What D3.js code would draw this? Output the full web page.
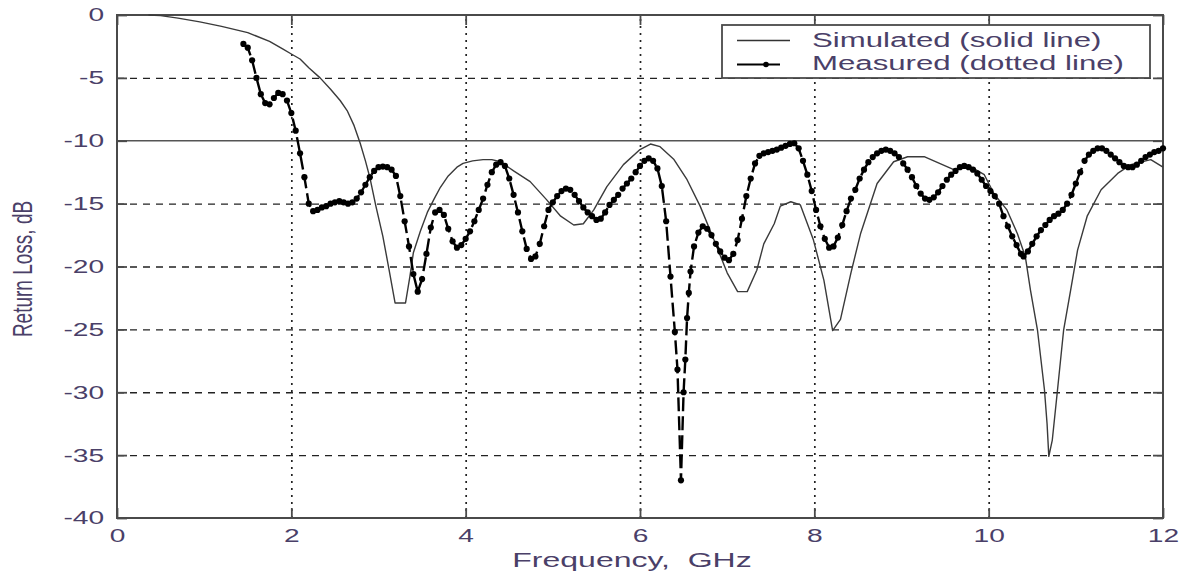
<!DOCTYPE html>
<html>
<head>
<meta charset="utf-8">
<script src="https://cdn.jsdelivr.net/npm/d3@7"></script>
<style>
  html, body { margin: 0; padding: 0; background: #fff; }
  svg { display: block; }
  text { font-family: "Liberation Sans", Arial, Helvetica, sans-serif; fill: #4a4068; }
</style>
</head>
<body>
<svg id="chart" width="1187" height="574"></svg>
<script>
// Return loss vs. frequency: simulated (thin solid) and measured (line + dot markers)
// Each pair is [frequency in GHz, return loss in dB]
const simulated = [
  [0.36, 0], [0.5, -0.05], [0.7, -0.25], [0.95, -0.55], [1.2, -0.9], [1.5, -1.4],
  [1.75, -2.1], [1.9, -2.7], [2.0, -3.1], [2.1, -3.5], [2.2, -4.2], [2.33, -5.0],
  [2.45, -5.9], [2.56, -6.8], [2.64, -7.6], [2.72, -8.8], [2.79, -10.2], [2.85, -11.6],
  [2.9, -12.9], [2.97, -15.2], [3.05, -17.6], [3.12, -20.2], [3.19, -22.9], [3.31, -22.9],
  [3.36, -20.8], [3.4, -18.9], [3.48, -17.2], [3.56, -15.7], [3.64, -14.6], [3.71, -13.7],
  [3.8, -12.8], [3.9, -12.1], [3.97, -11.8], [4.08, -11.6], [4.2, -11.5], [4.3, -11.5],
  [4.4, -11.67], [4.55, -12.4], [4.74, -13.25], [4.93, -14.7], [5.09, -16.0], [5.24, -16.7],
  [5.35, -16.6], [5.47, -15.5], [5.62, -13.65], [5.81, -11.9], [6.0, -10.7], [6.12, -10.26],
  [6.23, -10.47], [6.39, -11.5], [6.54, -13.1], [6.69, -15.2], [6.85, -17.9], [7.0, -20.5],
  [7.12, -22.0], [7.23, -22.0], [7.34, -20.3], [7.42, -18.2], [7.54, -16.6], [7.61, -15.2],
  [7.73, -14.85], [7.84, -15.1], [7.99, -17.9], [8.11, -21.1], [8.21, -25.1], [8.3, -24.2],
  [8.42, -20.5], [8.53, -17.4], [8.72, -13.4], [8.91, -11.67], [9.07, -11.27], [9.26, -11.27],
  [9.6, -12.3], [9.8, -12.1], [9.95, -12.7], [10.06, -14.2], [10.21, -15.5], [10.33, -17.4],
  [10.42, -19.2], [10.48, -21.9], [10.56, -25.05], [10.64, -29.8], [10.67, -32.5], [10.69, -35.1],
  [10.73, -33.8], [10.79, -29.8], [10.86, -25.05], [10.94, -21.9], [11.02, -18.7], [11.13, -16.0],
  [11.29, -13.9], [11.48, -12.6], [11.63, -11.9], [11.86, -11.5], [12.0, -12.1]
];

const measured = [
  [1.45, -2.3], [1.5, -2.6], [1.55, -3.6], [1.6, -5.0], [1.65, -6.3], [1.7, -7.0],
  [1.75, -7.1], [1.8, -6.6], [1.85, -6.2], [1.9, -6.3], [1.95, -6.8], [2.0, -7.8],
  [2.05, -9.2], [2.1, -11.0], [2.15, -12.9], [2.2, -15.0], [2.25, -15.6], [2.3, -15.5],
  [2.35, -15.3], [2.4, -15.2], [2.45, -15.0], [2.5, -14.9], [2.55, -14.8], [2.6, -14.9],
  [2.65, -15.0], [2.7, -14.9], [2.75, -14.6], [2.8, -14.1], [2.85, -13.5], [2.9, -12.9],
  [2.95, -12.4], [3.0, -12.1], [3.05, -12.05], [3.1, -12.1], [3.15, -12.3], [3.2, -12.8],
  [3.25, -14.4], [3.3, -16.4], [3.35, -18.4], [3.4, -20.6], [3.45, -22.0], [3.5, -21.0],
  [3.55, -19.0], [3.6, -16.9], [3.65, -15.7], [3.7, -15.5], [3.75, -15.9], [3.8, -17.0],
  [3.85, -18.0], [3.9, -18.5], [3.95, -18.3], [4.0, -17.8], [4.05, -17.2], [4.1, -16.4],
  [4.15, -15.5], [4.2, -14.6], [4.25, -13.5], [4.3, -12.5], [4.35, -11.9], [4.4, -11.7],
  [4.45, -12.0], [4.5, -13.0], [4.55, -14.3], [4.6, -15.7], [4.65, -17.2], [4.7, -18.6],
  [4.75, -19.4], [4.8, -19.2], [4.85, -18.2], [4.9, -16.8], [4.95, -15.5], [5.0, -14.9],
  [5.05, -14.4], [5.1, -14.0], [5.15, -13.8], [5.2, -13.9], [5.25, -14.3], [5.3, -14.8],
  [5.35, -15.3], [5.4, -15.7], [5.45, -16.0], [5.5, -16.3], [5.55, -16.2], [5.6, -15.7],
  [5.65, -15.1], [5.7, -14.7], [5.75, -14.3], [5.8, -13.8], [5.85, -13.4], [5.9, -13.0],
  [5.95, -12.5], [6.0, -12.0], [6.05, -11.6], [6.1, -11.4], [6.15, -11.6], [6.2, -12.2],
  [6.25, -13.6], [6.3, -16.4], [6.35, -20.8], [6.4, -25.2], [6.43, -28.2], [6.47, -37.0],
  [6.5, -30.0], [6.52, -27.4], [6.54, -24.1], [6.56, -22.1], [6.58, -20.4], [6.62, -18.4],
  [6.67, -17.3], [6.72, -16.8], [6.77, -17.0], [6.82, -17.5], [6.87, -18.2], [6.92, -18.8],
  [6.97, -19.3], [7.02, -19.5], [7.07, -19.0], [7.12, -17.9], [7.17, -16.2], [7.22, -14.4],
  [7.27, -13.0], [7.32, -11.8], [7.37, -11.2], [7.42, -11.0], [7.47, -10.9], [7.52, -10.8],
  [7.57, -10.7], [7.62, -10.55], [7.67, -10.4], [7.72, -10.25], [7.77, -10.2], [7.82, -10.6],
  [7.87, -11.6], [7.92, -12.7], [7.97, -14.0], [8.02, -15.5], [8.07, -16.8], [8.12, -17.8],
  [8.17, -18.5], [8.22, -18.4], [8.27, -17.7], [8.32, -16.7], [8.37, -15.6], [8.42, -14.6],
  [8.47, -13.9], [8.52, -13.0], [8.57, -12.3], [8.62, -11.7], [8.67, -11.3], [8.72, -11.0],
  [8.77, -10.8], [8.82, -10.7], [8.87, -10.8], [8.92, -11.0], [8.97, -11.3], [9.02, -11.8],
  [9.07, -12.3], [9.12, -12.9], [9.17, -13.6], [9.22, -14.2], [9.27, -14.6], [9.32, -14.7],
  [9.37, -14.5], [9.42, -14.1], [9.47, -13.6], [9.52, -13.1], [9.57, -12.7], [9.62, -12.4],
  [9.67, -12.1], [9.72, -12.0], [9.77, -12.1], [9.82, -12.3], [9.87, -12.6], [9.92, -13.1],
  [9.97, -13.6], [10.02, -14.0], [10.07, -14.4], [10.12, -15.0], [10.17, -16.0], [10.22, -16.8],
  [10.27, -17.6], [10.32, -18.3], [10.37, -19.0], [10.4, -19.2], [10.45, -18.8], [10.5, -18.2],
  [10.55, -17.6], [10.6, -17.1], [10.65, -16.7], [10.7, -16.3], [10.75, -16.0], [10.8, -15.8],
  [10.85, -15.5], [10.9, -15.0], [10.95, -14.3], [11.0, -13.4], [11.05, -12.5], [11.1, -11.6],
  [11.15, -11.1], [11.2, -10.8], [11.25, -10.6], [11.3, -10.6], [11.35, -10.8], [11.4, -11.1],
  [11.45, -11.4], [11.5, -11.7], [11.55, -12.0], [11.6, -12.1], [11.65, -12.1], [11.7, -11.9],
  [11.75, -11.6], [11.8, -11.3], [11.85, -11.1], [11.9, -10.9], [11.95, -10.8], [12.0, -10.6]
];

const xTicks = [0, 2, 4, 6, 8, 10, 12];
const yTicks = [0, -5, -10, -15, -20, -25, -30, -35, -40];
const xGrid = [2, 4, 6, 8, 10];
const yGrid = [-5, -15, -20, -25, -30, -35];
const refLevel = [-10];
const seriesNames = ["Simulated (solid line)", "Measured (dotted line)"];
const xTitle = "Frequency,  GHz";
const yTitle = "Return Loss, dB";

// ---- layout ----
const plot = { left: 117, top: 15, right: 1163, bottom: 518 };
const pw = plot.right - plot.left, ph = plot.bottom - plot.top;
const SX = 1.52;           // glyphs are drawn wide
const frameColor = "#4a4a4a";
const textColor = "#4a4068";

const svg = d3.select("#chart");
const x = d3.scaleLinear().domain([0, 12]).range([plot.left, plot.right]);
const y = d3.scaleLinear().domain([-40, 0]).range([plot.bottom, plot.top]);

// ---- grid ----
svg.append("g")
  .attr("transform", `translate(0,${plot.bottom})`)
  .call(d3.axisBottom(x).tickValues(xGrid).tickSize(-ph).tickFormat(""))
  .call(g => g.select(".domain").remove())
  .call(g => g.selectAll("line").attr("stroke", "#222").attr("stroke-width", 1.7)
                .attr("stroke-dasharray", "2,5"));

svg.append("g")
  .attr("transform", `translate(${plot.left},0)`)
  .call(d3.axisLeft(y).tickValues(yGrid).tickSize(-pw).tickFormat(""))
  .call(g => g.select(".domain").remove())
  .call(g => g.selectAll("line").attr("stroke", "#222").attr("stroke-width", 1.4)
                .attr("stroke-dasharray", "7,6"));

// -10 dB reference line
svg.append("g").selectAll("line").data(refLevel).join("line")
  .attr("x1", plot.left).attr("x2", plot.right)
  .attr("y1", d => y(d)).attr("y2", d => y(d))
  .attr("stroke", "#555").attr("stroke-width", 1.7);

// ---- inward tick marks on all four sides + labels ----
const fmt = d => String(d);
const bottomAxis = svg.append("g")
  .attr("transform", `translate(0,${plot.bottom})`)
  .call(d3.axisBottom(x).tickValues(xTicks).tickSizeInner(-10).tickSizeOuter(0)
        .tickPadding(11).tickFormat(fmt));
svg.append("g")
  .attr("transform", `translate(0,${plot.top})`)
  .call(d3.axisTop(x).tickValues(xTicks).tickSizeInner(-10).tickSizeOuter(0).tickFormat(""));
const leftAxis = svg.append("g")
  .attr("transform", `translate(${plot.left},0)`)
  .call(d3.axisLeft(y).tickValues(yTicks).tickSizeInner(-10).tickSizeOuter(0)
        .tickPadding(8.5).tickFormat(fmt));
svg.append("g")
  .attr("transform", `translate(${plot.right},0)`)
  .call(d3.axisRight(y).tickValues(yTicks).tickSizeInner(-10).tickSizeOuter(0).tickFormat(""));

svg.selectAll(".domain").remove();
svg.selectAll(".tick line").filter(function () { return !this.getAttribute("stroke-dasharray"); })
  .attr("stroke", frameColor).attr("stroke-width", 1.8);

[bottomAxis, leftAxis].forEach(ax => ax.selectAll("text")
  .attr("font-size", 18.5).attr("fill", textColor).attr("font-family", null)
  .attr("transform", `scale(${SX},1)`));

// ---- frame ----
svg.append("rect")
  .attr("x", plot.left).attr("y", plot.top).attr("width", pw).attr("height", ph)
  .attr("fill", "none").attr("stroke", frameColor).attr("stroke-width", 2);

// ---- series ----
const line = d3.line().x(d => x(d[0])).y(d => y(d[1]));

svg.append("path").datum(simulated)
  .attr("d", line)
  .attr("fill", "none").attr("stroke", "#3a3a3a").attr("stroke-width", 1.4)
  .attr("stroke-linejoin", "round");

svg.append("path").datum(measured)
  .attr("d", line)
  .attr("fill", "none").attr("stroke", "#000").attr("stroke-width", 2.4)
  .attr("stroke-dasharray", "14,5");

svg.append("g").selectAll("circle").data(measured).join("circle")
  .attr("cx", d => x(d[0])).attr("cy", d => y(d[1])).attr("r", 3.1)
  .attr("fill", "#000");

// ---- legend ----
const lg = svg.append("g");
lg.append("rect").attr("x", 722).attr("y", 25).attr("width", 428).attr("height", 53)
  .attr("fill", "#fff").attr("stroke", frameColor).attr("stroke-width", 1.8);
lg.append("line").attr("x1", 737).attr("x2", 790).attr("y1", 40.5).attr("y2", 40.5)
  .attr("stroke", "#333").attr("stroke-width", 1.4);
lg.append("line").attr("x1", 737).attr("x2", 780).attr("y1", 64.5).attr("y2", 64.5)
  .attr("stroke", "#000").attr("stroke-width", 1.8);
lg.append("circle").attr("cx", 766).attr("cy", 64.5).attr("r", 2.8).attr("fill", "#000");
lg.selectAll("text.lab").data(seriesNames).join("text")
  .attr("class", "lab")
  .attr("transform", (d, i) => `translate(812,${47 + i * 23}) scale(1.6,1)`)
  .attr("font-size", 19.5)
  .text(d => d);

// ---- axis titles ----
svg.append("text")
  .attr("transform", `translate(632,567) scale(1.6,1)`)
  .attr("text-anchor", "middle").attr("font-size", 20)
  .style("white-space", "pre")
  .text(xTitle);

svg.append("text")
  .attr("transform", `translate(32,269) scale(1.5,1) rotate(-90)`)
  .attr("text-anchor", "middle").attr("font-size", 19)
  .text(yTitle);
</script>
</body>
</html>
